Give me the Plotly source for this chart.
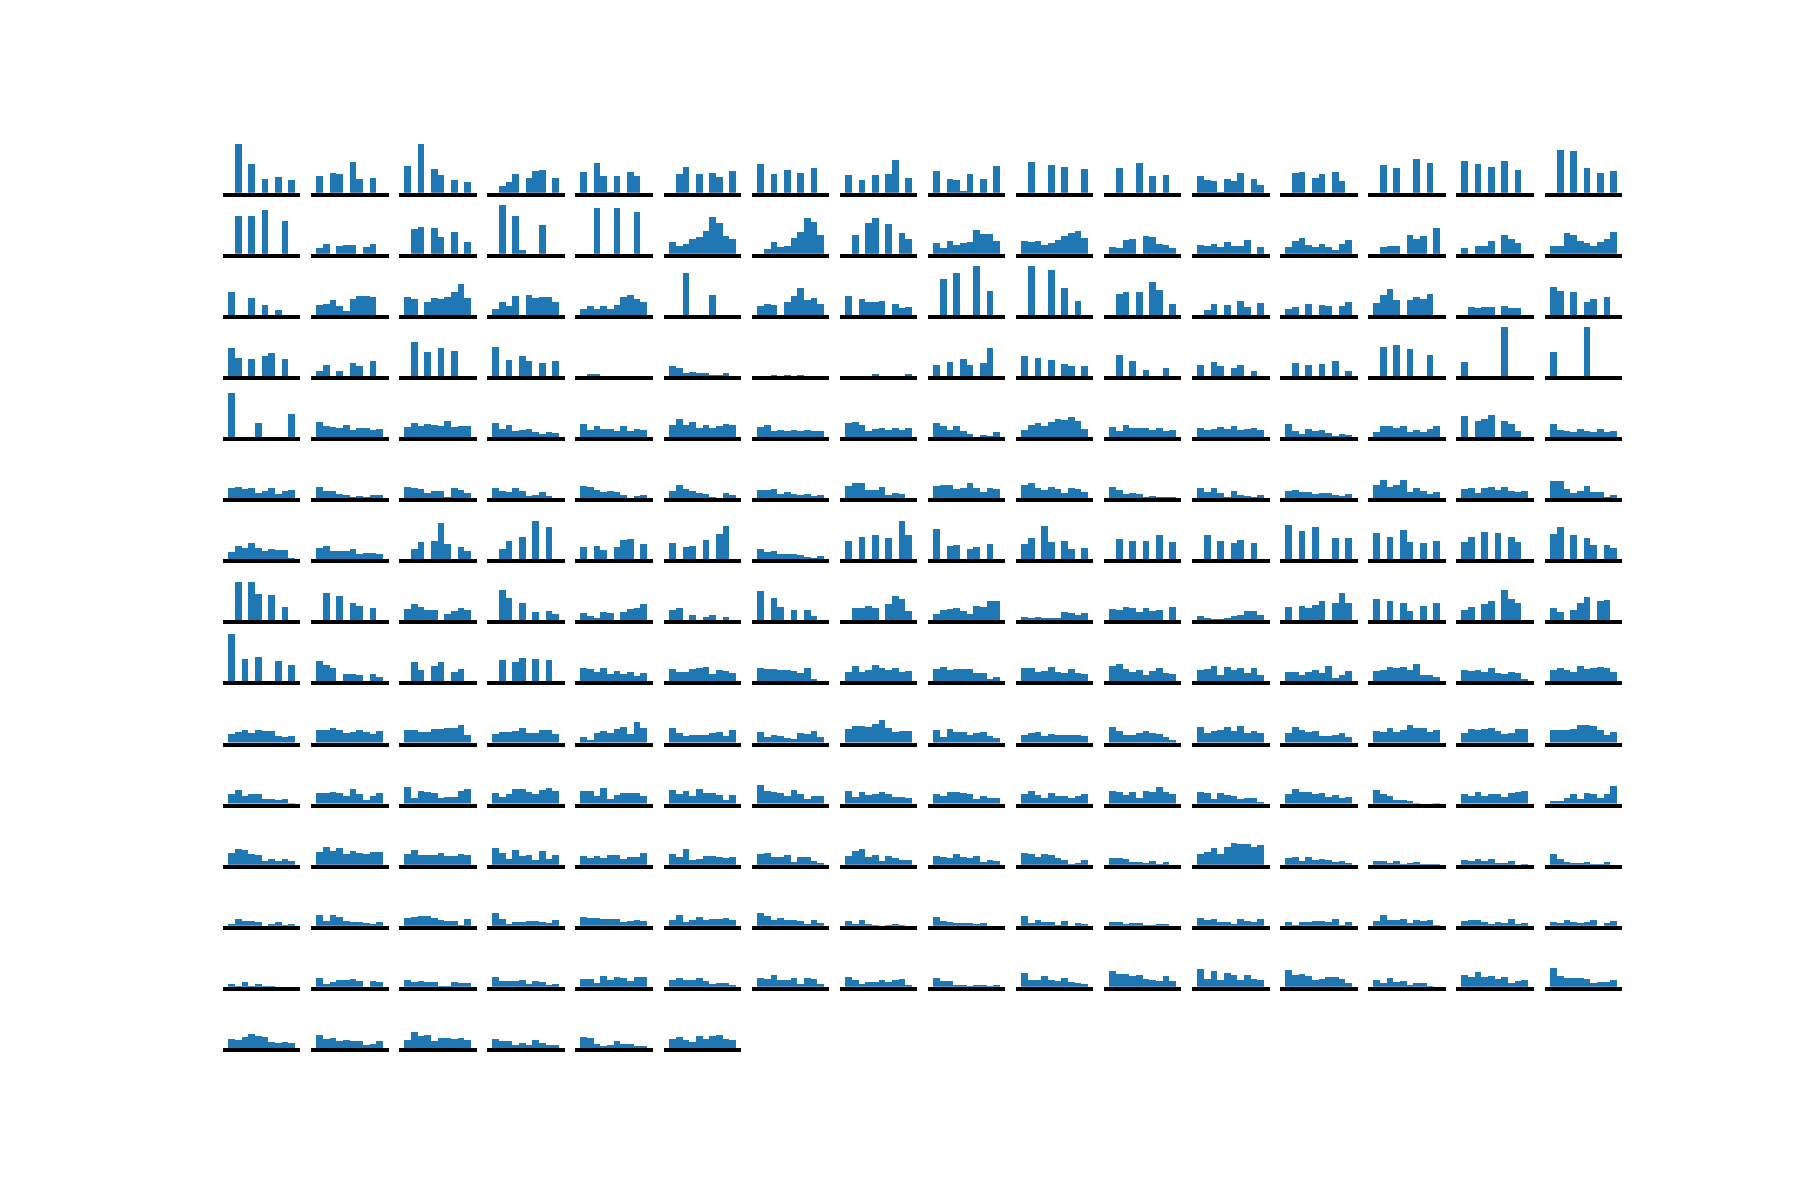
import plotly.graph_objects as go

# bin index (10 bins per panel)
bins = list(range(10))

# Histogram heights per panel, one list per grid row (16 panels per row, last row 6)
row_00 = [
    [0,152,0,92,0,47,0,53,0,44], [56,0,65,62,0,98,47,0,50,0], [86,0,152,0,77,59,0,44,0,38],
    [0,26,38,62,0,50,71,74,0,50], [68,0,95,56,8,56,0,68,56,0], [0,62,83,0,62,0,65,53,0,71],
    [92,0,62,0,74,0,65,0,80,0], [59,0,44,0,59,0,62,104,0,50], [71,0,47,44,11,62,0,47,0,86],
    [0,98,0,0,89,0,83,0,0,77], [0,80,0,0,95,0,56,0,59,0], [56,44,41,8,47,41,65,0,47,29],
    [0,65,68,0,50,62,0,68,41,0], [0,89,0,80,0,0,107,0,95,0], [101,0,92,0,83,0,101,0,74,0],
    [0,134,0,131,0,80,0,65,0,71],
]
row_01 = [
    [0,119,0,119,0,137,0,0,104,0], [23,35,0,29,32,32,0,26,35,0], [0,80,86,0,83,56,0,71,0,41],
    [0,152,0,119,17,0,0,92,0,0], [0,0,143,0,0,143,0,0,131,0], [41,29,35,50,56,74,116,98,59,50],
    [0,20,41,26,29,53,71,113,101,62], [0,62,0,98,113,0,95,0,68,50], [38,23,44,32,38,41,77,65,65,44],
    [44,41,44,32,38,47,59,68,74,53], [26,23,47,50,0,59,56,35,32,23], [32,29,35,26,41,29,29,47,0,26],
    [26,44,53,32,26,35,26,17,35,47], [0,26,29,29,0,62,50,59,0,83], [23,0,29,29,44,0,62,50,38,0],
    [29,29,68,62,44,38,29,41,50,71],
]
row_02 = [
    [74,0,0,56,0,35,0,20,0,0], [35,38,50,32,17,53,62,62,59,0], [59,53,0,44,56,53,59,74,98,56],
    [23,44,32,62,0,65,56,59,59,44], [23,32,23,32,23,35,59,65,53,44], [0,0,131,0,0,0,65,0,0,0],
    [32,38,35,0,44,62,86,50,56,38], [62,0,53,44,44,47,0,38,26,29], [0,113,0,131,0,0,152,0,77,0],
    [0,152,0,0,140,0,86,0,47,0], [0,68,74,0,74,0,104,80,0,38], [0,20,38,0,35,0,47,29,0,41],
    [23,29,0,38,0,35,32,0,32,44], [41,65,83,50,0,50,59,53,68,0], [0,29,26,29,29,0,32,26,26,0],
    [89,77,0,74,0,44,53,0,59,0],
]
row_03 = [
    [90,60,0,57,0,66,75,0,57,0], [21,39,0,21,0,45,36,0,51,0], [0,108,0,78,0,90,0,81,0,0],
    [93,0,54,0,66,51,0,45,0,51], [0,12,12,0,0,0,0,0,0,0], [36,30,15,18,15,15,9,9,15,0],
    [0,0,9,0,9,0,9,0,0,0], [0,0,0,0,12,0,0,0,0,12], [39,0,48,0,57,39,0,45,90,0],
    [66,0,60,0,54,0,42,36,0,36], [0,69,0,51,0,24,0,0,30,0], [39,0,48,36,0,30,39,0,21,0],
    [0,45,0,39,0,42,0,51,0,21], [0,93,0,99,0,87,0,0,69,0], [48,0,0,0,0,0,153,0,0,0],
    [78,0,0,0,0,153,0,0,0,0],
]
row_04 = [
    [138,0,0,0,48,0,0,0,0,75], [51,39,36,33,42,27,33,33,27,30], [36,48,39,45,42,39,54,36,39,39],
    [48,30,42,24,27,30,21,15,21,18], [45,27,39,30,30,24,39,24,30,27], [42,60,42,51,33,42,33,39,45,42],
    [36,42,24,27,24,27,24,27,24,24], [48,51,42,24,30,33,27,33,27,33], [48,39,27,39,24,15,0,12,9,21],
    [27,42,48,39,51,60,57,66,54,30], [36,24,42,33,33,33,27,33,24,27], [33,27,30,36,30,39,27,30,33,27],
    [45,24,15,30,24,27,18,9,15,12], [21,39,39,33,39,21,27,21,30,39], [69,0,54,60,72,0,54,45,24,0],
    [45,27,24,21,30,24,21,30,21,24],
]
row_05 = [
    [36,39,33,36,21,27,36,18,27,30], [39,27,27,18,15,9,12,9,15,15], [39,36,33,21,27,27,9,36,30,21],
    [36,27,24,36,27,12,15,24,12,6], [42,39,30,24,27,24,15,6,12,15], [27,45,33,27,21,18,9,0,21,15],
    [30,30,33,18,24,18,15,18,12,15], [42,51,51,30,30,39,15,21,18,0], [42,45,45,33,36,51,36,24,36,33],
    [45,51,36,30,39,33,21,36,33,24], [39,30,18,21,18,9,12,9,9,9], [36,24,36,21,9,27,15,12,9,15],
    [27,30,24,24,18,21,21,15,12,18], [45,60,39,45,60,24,36,27,18,24], [33,36,21,36,39,30,39,27,24,27],
    [57,57,33,21,27,42,24,24,9,15],
]
row_06 = [
    [27,45,39,54,39,30,36,33,33,9], [39,45,30,30,30,36,21,24,24,21], [0,36,57,0,60,114,51,0,42,30],
    [0,36,60,0,72,0,120,0,102,0], [42,0,45,33,0,42,63,66,0,51], [54,0,42,45,0,63,0,81,105,0],
    [36,27,30,21,21,21,18,12,9,15], [60,0,72,0,78,0,69,0,120,78], [96,0,45,48,0,36,42,0,51,0],
    [51,69,0,105,57,0,60,36,0,39], [0,66,0,60,0,60,0,78,0,57], [0,78,0,60,0,54,63,0,54,0],
    [108,0,90,0,102,0,0,69,0,69], [84,0,72,0,93,57,0,54,0,60], [57,72,0,87,0,84,0,72,57,0],
    [81,102,0,78,0,69,48,0,48,39],
]
row_07 = [
    [0,120,0,120,84,0,81,0,45,0], [0,87,0,78,0,57,48,0,42,0], [39,54,45,36,36,0,24,33,42,36],
    [0,96,72,0,57,0,30,0,33,24], [27,18,12,30,27,0,30,39,42,54], [36,42,0,21,0,15,21,0,15,0],
    [93,0,72,45,0,36,0,36,18,0], [0,42,42,48,42,0,54,78,69,33], [24,36,39,42,33,24,48,45,63,63],
    [15,12,15,12,12,12,30,27,21,27], [39,36,45,42,30,42,33,36,0,45], [18,12,9,9,12,18,21,33,33,21],
    [45,0,48,42,51,63,0,57,87,57], [69,0,63,0,57,33,0,48,0,57], [36,45,0,54,63,0,96,69,57,0],
    [42,30,0,36,57,75,0,63,66,0],
]
row_08 = [
    [150,0,75,0,81,0,0,69,0,57], [69,57,48,0,30,30,27,0,30,21], [0,66,42,0,54,66,0,36,45,0],
    [0,72,0,66,78,0,75,0,72,0], [48,45,36,48,30,39,30,36,24,33], [45,36,36,45,48,51,30,42,39,33],
    [48,45,45,42,42,39,33,48,15,0], [36,54,36,42,57,48,42,48,36,39], [45,51,42,45,45,45,33,33,15,21],
    [48,48,36,39,51,36,33,45,33,30], [54,60,45,36,42,27,39,48,33,30], [42,45,54,27,51,42,48,33,48,27],
    [36,36,27,36,42,33,54,18,27,39], [39,42,51,48,51,42,60,27,27,21], [42,39,42,36,48,33,30,36,33,15],
    [42,48,42,36,54,45,48,51,48,36],
]
row_09 = [
    [33,39,45,36,45,42,42,27,24,27], [45,45,51,45,36,39,45,39,33,42], [45,45,39,39,48,48,51,51,60,30],
    [33,39,39,42,51,36,36,45,45,33], [24,15,36,42,36,48,54,33,69,51], [51,36,27,30,30,30,36,39,27,45],
    [39,24,30,27,21,18,36,33,42,24], [48,57,57,54,63,75,51,39,42,42], [45,24,48,39,39,30,36,39,27,21],
    [30,36,39,27,33,30,30,30,30,27], [54,42,30,30,36,42,36,33,24,15], [54,36,42,45,54,42,57,36,42,36],
    [36,54,45,39,42,27,27,30,36,24], [42,39,51,39,45,60,51,51,39,45], [36,48,45,48,51,42,33,36,48,48],
    [45,45,45,48,60,60,57,45,30,39],
]
row_10 = [
    [36,48,30,36,36,21,21,18,21,9], [39,39,42,39,30,51,36,18,30,39], [57,24,45,42,39,24,27,27,45,51],
    [39,27,36,51,51,42,36,48,54,45], [45,45,30,54,21,33,39,39,39,30], [48,36,45,30,51,39,39,33,18,33],
    [63,45,42,39,30,48,36,21,30,30], [45,27,42,33,36,42,36,27,27,24], [36,30,42,42,39,36,21,30,24,24],
    [36,45,33,24,39,30,30,24,30,36], [45,42,33,42,24,45,42,57,42,36], [42,39,21,39,33,30,21,24,24,12],
    [36,51,42,42,36,39,27,33,24,27], [48,36,30,18,18,15,9,6,6,9], [36,30,42,30,36,36,27,39,42,45],
    [15,15,24,36,21,39,36,24,36,60],
]
row_11 = [
    [42,54,51,39,36,18,24,18,24,18], [45,60,48,57,39,48,42,39,45,45], [39,51,36,36,36,42,33,33,39,36],
    [57,42,24,51,33,36,21,48,24,36], [33,27,33,27,36,36,24,30,30,42], [39,30,54,21,24,33,33,30,27,30],
    [39,42,30,30,36,15,30,30,18,12], [33,48,54,30,36,18,33,27,21,21], [33,30,27,39,30,27,33,15,21,18],
    [42,39,30,39,36,27,21,9,12,21], [27,27,24,15,15,12,18,9,15,6], [39,45,57,39,60,72,69,69,60,66],
    [27,30,18,30,21,24,21,15,18,12], [18,18,12,18,9,12,15,9,9,9], [21,18,24,18,24,12,12,18,6,9],
    [39,24,15,12,12,15,9,9,15,0],
]
row_12 = [
    [12,27,21,21,18,0,12,18,9,12], [39,21,39,33,21,18,18,15,12,18], [30,33,36,36,30,24,21,21,9,27],
    [45,27,12,18,18,21,21,18,15,24], [33,30,30,27,27,27,18,21,24,21], [24,39,18,24,33,24,27,27,30,24],
    [45,36,24,30,24,24,21,12,24,15], [21,12,24,12,9,0,9,12,9,0], [33,21,18,15,15,15,12,15,0,0],
    [36,15,24,18,18,9,21,0,15,12], [18,18,12,15,15,9,9,12,12,0], [30,24,27,18,18,12,27,21,18,27],
    [18,9,18,18,21,21,18,27,9,18], [21,39,24,24,27,15,24,21,24,9], [21,24,24,18,12,18,15,27,12,15],
    [18,15,24,18,15,18,24,0,15,21],
]
row_13 = [
    [15,9,21,9,15,9,9,0,0,0], [33,15,21,27,27,30,24,0,24,21], [27,21,24,21,21,9,9,21,18,18],
    [36,24,24,24,27,15,24,21,12,15], [30,30,18,39,27,36,33,24,36,36], [27,33,27,27,33,24,15,18,18,12],
    [33,30,42,27,27,33,15,33,30,15], [36,27,15,21,21,27,21,27,30,12], [33,24,24,12,12,9,12,12,9,12],
    [48,27,27,39,27,24,33,21,18,15], [54,45,45,39,42,30,27,24,39,24], [60,30,54,27,48,42,27,42,30,27],
    [57,42,45,39,27,30,36,36,30,18], [27,18,33,21,24,12,18,18,9,0], [42,36,51,36,39,30,36,18,24,27],
    [63,39,33,33,33,30,18,21,21,27],
]
row_14 = [
    [33,30,39,48,42,39,24,21,24,21], [45,33,36,27,30,27,27,15,18,27], [30,54,42,45,27,36,36,33,36,30],
    [33,27,27,15,21,15,30,21,15,15], [39,36,18,12,15,27,18,18,12,12], [33,39,30,24,42,33,42,45,33,30],
]

rows = [row_00, row_01, row_02, row_03, row_04, row_05, row_06, row_07,
        row_08, row_09, row_10, row_11, row_12, row_13, row_14]

W, H = 1800, 1200
LEFT, COL_PITCH, AX_W = 225.0, 88.1, 73.4
BOTTOM0, ROW_PITCH, AX_H = 194.7, 61.09, 50.9
YMAX = 152.7
SPINE = 4.0
EXT = SPINE / 2
slot_px = AX_W / 11.0
ext_u = EXT / slot_px
y_lo = (SPINE / 2) * YMAX / AX_H

fig = go.Figure()
layout = {}
n = 0
for r, row in enumerate(rows):
    for c, vals in enumerate(row):
        n += 1
        sfx = '' if n == 1 else str(n)
        fig.add_trace(go.Bar(
            x=bins, y=vals, width=1.0,
            marker=dict(color='#1f77b4', line=dict(width=0)),
            xaxis='x' + sfx, yaxis='y' + sfx,
            showlegend=False, hoverinfo='skip'))
        xl = LEFT + c * COL_PITCH - EXT
        xr = LEFT + c * COL_PITCH + AX_W + EXT
        bottom = BOTTOM0 + r * ROW_PITCH
        top = bottom - AX_H
        yb = bottom - SPINE / 2
        layout['xaxis' + sfx] = dict(
            domain=[xl / W, xr / W], range=[-1.0 - ext_u, 10.0 + ext_u],
            anchor='y' + sfx, showline=True, linecolor='black', linewidth=SPINE,
            showticklabels=False, ticks='', showgrid=False, zeroline=False, fixedrange=True)
        layout['yaxis' + sfx] = dict(
            domain=[1 - yb / H, 1 - top / H], range=[y_lo, YMAX],
            anchor='x' + sfx, visible=False, showgrid=False, zeroline=False, fixedrange=True)

fig.update_layout(
    width=W, height=H, margin=dict(l=0, r=0, t=0, b=0),
    paper_bgcolor='white', plot_bgcolor='white',
    bargap=0, showlegend=False, **layout)

fig.write_html("out.html")
